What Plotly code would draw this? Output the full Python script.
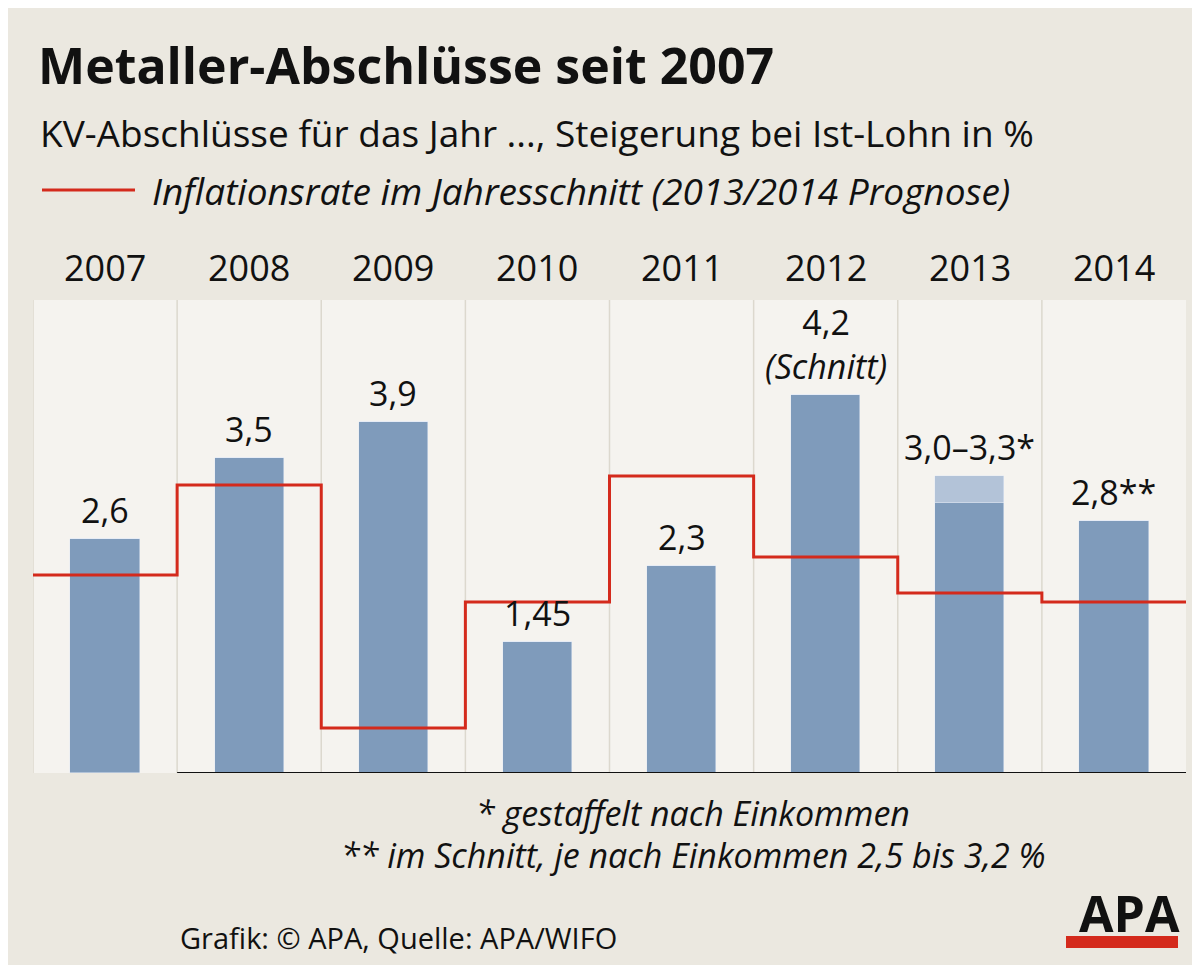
import plotly.graph_objects as go

years = ["2007","2008","2009","2010","2011","2012","2013","2014"]
wage = [2.6, 3.5, 3.9, 1.45, 2.3, 4.2, 3.0, 2.8]
wage_extra = [0, 0, 0, 0, 0, 0, 0.3, 0]
wage_labels = ["2,6","3,5","3,9","1,45","2,3","4,2<br><i>(Schnitt)</i>","3,0–3,3*","2,8**"]
inflation = [2.2, 3.2, 0.5, 1.9, 3.3, 2.4, 2.0, 1.9]

BG = "#ebe8e0"
BAR = "#7f9bbb"
LIGHT = "#b3c3d8"
RED = "#d42a1c"
F = "Open Sans"
OFF = 8  # page body offset

xs = list(range(len(years)))
fig = go.Figure()
fig.add_bar(x=xs, y=wage, marker_color=BAR, width=0.48, hoverinfo="skip")
fig.add_bar(x=xs, y=wage_extra, marker_color=LIGHT, width=0.48, hoverinfo="skip")
fig.add_scatter(x=[i-0.5 for i in xs]+[len(xs)-0.5], y=inflation+[inflation[-1]],
                mode="lines", line=dict(color=RED, width=3, shape="hv"), hoverinfo="skip")

shapes = []
for i in xs:
    shapes.append(dict(type="rect", xref="x", yref="paper", x0=i-0.5, x1=i+0.5, y0=0, y1=1,
                       fillcolor="#f5f3ef", line=dict(width=0), layer="below"))
    shapes.append(dict(type="line", xref="x", yref="paper", x0=i-0.5, x1=i-0.5, y0=0, y1=1,
                       line=dict(color="#dcd8ce", width=1.5), layer="below"))
shapes.append(dict(type="line", xref="x", yref="y", x0=0.5, x1=7.5, y0=0, y1=0,
                   line=dict(color="#111", width=2)))

H = 473.0
def py(pix):
    return (773 - pix) / H
def px(pix):
    return (pix - 33) / 1153.0

shapes.append(dict(type="line", xref="paper", yref="paper", x0=px(42), x1=px(135), y0=py(190), y1=py(190),
                   line=dict(color=RED, width=3)))

ann = []
for i, (v, e, t) in enumerate(zip(wage, wage_extra, wage_labels)):
    ann.append(dict(x=i, y=v+e, xref="x", yref="y", text=t, showarrow=False, yanchor="bottom",
                    yshift=4, font=dict(size=34, color="#111", family=F)))
    ann.append(dict(x=i, y=py(268), xref="x", yref="paper", text=years[i], showarrow=False,
                    yanchor="middle", font=dict(size=36, color="#111", family=F)))

def pa(x, y, text, size, xanchor="left"):
    ann.append(dict(x=x, y=y, xref="paper", yref="paper", xanchor=xanchor, yanchor="middle",
                    text=text, showarrow=False, font=dict(size=size, color="#111", family=F)))

pa(px(36), py(65), "<b>Metaller-Abschlüsse seit 2007</b>", 50)
pa(px(38), py(132), "KV-Abschlüsse für das Jahr ..., Steigerung bei Ist-Lohn in %", 37)
pa(px(150), py(190), "<i>Inflationsrate im Jahresschnitt (2013/2014 Prognose)</i>", 37)
pa(px(693), py(813), "<i>* gestaffelt nach Einkommen</i>", 34, xanchor="center")
pa(px(693), py(855), "<i>** im Schnitt, je nach Einkommen 2,5 bis 3,2 %</i>", 34, xanchor="center")
pa(px(178), py(937), "Grafik: © APA, Quelle: APA/WIFO", 29)
pa(px(1182), py(913), "<b>APA</b>", 50, xanchor="right")
shapes.append(dict(type="rect", xref="paper", yref="paper", x0=px(1066), x1=px(1178),
                   y0=py(948), y1=py(936), fillcolor=RED, line=dict(width=0)))

fig.update_layout(
    width=1200, height=965, barmode="stack", showlegend=False,
    paper_bgcolor=BG, plot_bgcolor=BG,
    margin=dict(l=33-OFF, r=14+OFF, t=300-OFF, b=192+OFF),
    xaxis=dict(range=[-0.5, 7.5], visible=False),
    yaxis=dict(range=[0, 5.255], visible=False),
    shapes=shapes, annotations=ann, bargap=0,
)
fig.write_html("out.html")
